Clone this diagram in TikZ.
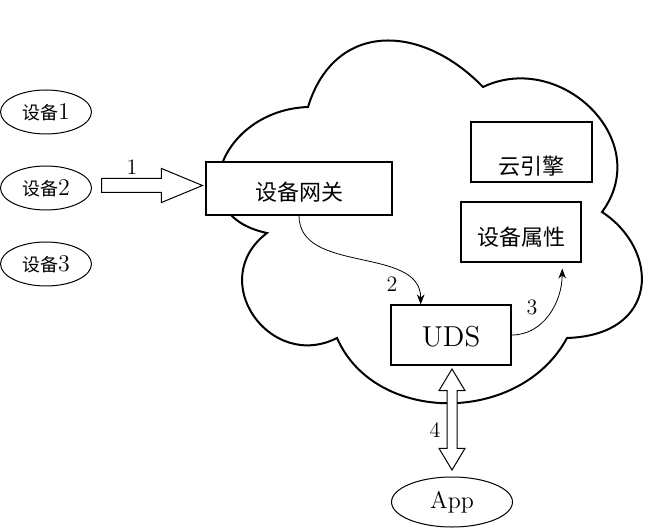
\documentclass[tikz,border=0pt]{standalone}
\usepackage{fontspec}
\newfontfamily\cjk{Noto Sans CJK SC}
\usetikzlibrary{shapes,positioning,arrows.meta,calc}

\begin{document}
\begin{tikzpicture}[x=0.5pt,y=-0.5pt,
  box/.style={draw,line width=0.6pt,fill=white,inner sep=0pt,
    minimum width=60pt,minimum height=30pt,text height=12pt,text depth=0pt,
    font=\cjk\fontsize{11}{13}\selectfont},
  device/.style={draw,ellipse,line width=0.5pt,fill=white,inner sep=0pt,
    minimum width=45.5pt,minimum height=22pt,font=\fontsize{9}{11}\selectfont},
  num/.style={font=\fontsize{11}{13}\selectfont},
  flow/.style={-{Stealth[length=5pt,width=3.8pt]},line width=0.4pt}]
  \useasboundingbox (0,0) rectangle (662,528);
  % cloud
  \draw[line width=1pt] (308,107) .. controls (334,22) and (420,22) .. (483,87)
    .. controls (560,50) and (655,140) .. (602,212)
    .. controls (660,250) and (660,335) .. (567,338)
    .. controls (520,425) and (375,425) .. (337,338)
    .. controls (270,372) and (205,280) .. (267,233)
    .. controls (180,215) and (220,110) .. cycle;
  % devices
  \node (dev1) [device] at (46,112) {{\cjk 设备}{\large 1}};
  \node (dev2) [device] at (46,188) {{\cjk 设备}{\large 2}};
  \node (dev3) [device] at (46,264) {{\cjk 设备}{\large 3}};
  % boxes in the cloud
  \node (gw) [box,minimum width=93pt,minimum height=26.5pt] at (299,188.5) {设备网关};
  \node (engine) [box,minimum width=60.5pt,text height=23pt] at (531.5,152) {云引擎};
  \node (attr) [box,text height=13.5pt] at (521,232) {设备属性};
  \node (uds) [box,font=\Large] at (451,335) {UDS};
  \node (app) [device,minimum width=60.5pt,minimum height=25pt,font=\large] at (452,502) {App};
  % block arrows
  \node (arrow1) [single arrow,draw,fill=white,line width=0.5pt,inner xsep=0pt,inner ysep=3.25pt,
    single arrow head extend=5pt,single arrow tip angle=45,
    minimum height=50.5pt,minimum width=16.5pt,anchor=tail] at (101,185.5) {};
  \node (arrow4) [double arrow,draw,fill=white,line width=0.5pt,rotate=90,inner xsep=0pt,inner ysep=2.25pt,
    double arrow head extend=4pt,double arrow tip angle=62,
    minimum height=50.5pt,minimum width=12.5pt] at (452,419.5) {};
  % flows
  \draw[flow] (gw.south) to[out=-90,in=90] ($(uds.north west)!0.25!(uds.north east)$);
  \draw[flow] (uds.east) to[out=0,in=-90] ($(attr.south west)!0.84!(attr.south east)+(0,6)$);
  % step numbers
  \node (n1) [num] at (132,167) {1};
  \node (n2) [num] at (392,284) {2};
  \node (n3) [num] at (532,307) {3};
  \node (n4) [num] at (435,430) {4};
\end{tikzpicture}
\end{document}
